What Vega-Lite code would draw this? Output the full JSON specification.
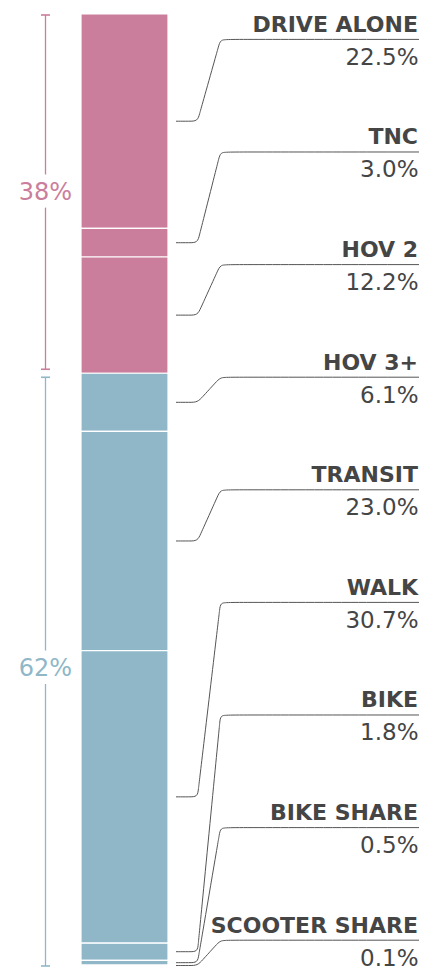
{
  "$schema": "https://vega.github.io/schema/vega-lite/v6.json",
  "width": 433,
  "height": 973,
  "padding": 0,
  "autosize": {"type": "none"},
  "background": "white",
  "config": {"view": {"stroke": null}},
  "datasets": {
    "modes": [
      {"mode": "Drive alone", "label": "DRIVE ALONE", "pct": 22.5, "start": 0, "end": 22.5, "group": "Vehicle", "labelPos": 2.665},
      {"mode": "TNC", "label": "TNC", "pct": 3.0, "start": 22.5, "end": 25.5, "group": "Vehicle", "labelPos": 14.481},
      {"mode": "HOV 2", "label": "HOV 2", "pct": 12.2, "start": 25.5, "end": 37.7, "group": "Vehicle", "labelPos": 26.297},
      {"mode": "HOV 3+", "label": "HOV 3+", "pct": 6.1, "start": 37.7, "end": 43.8, "group": "Other", "labelPos": 38.113},
      {"mode": "Transit", "label": "TRANSIT", "pct": 23.0, "start": 43.8, "end": 66.8, "group": "Other", "labelPos": 49.929},
      {"mode": "Walk", "label": "WALK", "pct": 30.7, "start": 66.8, "end": 97.5, "group": "Other", "labelPos": 61.745},
      {"mode": "Bike", "label": "BIKE", "pct": 1.8, "start": 97.5, "end": 99.3, "group": "Other", "labelPos": 73.561},
      {"mode": "Bike share", "label": "BIKE SHARE", "pct": 0.5, "start": 99.3, "end": 99.8, "group": "Other", "labelPos": 85.377},
      {"mode": "Scooter share", "label": "SCOOTER SHARE", "pct": 0.1, "start": 99.8, "end": 99.9, "group": "Other", "labelPos": 97.193}
    ],
    "groups": [
      {"group": "Vehicle", "share": 37.7, "start": 0, "end": 37.7, "mid": 18.85},
      {"group": "Other", "share": 62.2, "start": 37.7, "end": 99.9, "mid": 68.8}
    ],
    "connectors": [
      {"mode": "Drive alone", "x": 176, "y": 11.25}, {"mode": "Drive alone", "x": 189.5, "y": 11.25}, {"mode": "Drive alone", "x": 197.5, "y": 11.25}, {"mode": "Drive alone", "x": 199.67, "y": 10.442}, {"mode": "Drive alone", "x": 201.83, "y": 9.634}, {"mode": "Drive alone", "x": 216.17, "y": 4.281}, {"mode": "Drive alone", "x": 218.34, "y": 3.473}, {"mode": "Drive alone", "x": 220.5, "y": 2.665}, {"mode": "Drive alone", "x": 228.5, "y": 2.665}, {"mode": "Drive alone", "x": 419, "y": 2.665},
      {"mode": "TNC", "x": 176, "y": 24}, {"mode": "TNC", "x": 189.5, "y": 24}, {"mode": "TNC", "x": 197.5, "y": 24}, {"mode": "TNC", "x": 199.47, "y": 23.186}, {"mode": "TNC", "x": 201.43, "y": 22.372}, {"mode": "TNC", "x": 216.57, "y": 16.109}, {"mode": "TNC", "x": 218.53, "y": 15.295}, {"mode": "TNC", "x": 220.5, "y": 14.481}, {"mode": "TNC", "x": 228.5, "y": 14.481}, {"mode": "TNC", "x": 419, "y": 14.481},
      {"mode": "HOV 2", "x": 176, "y": 31.6}, {"mode": "HOV 2", "x": 189.5, "y": 31.6}, {"mode": "HOV 2", "x": 197.5, "y": 31.6}, {"mode": "HOV 2", "x": 200.81, "y": 30.836}, {"mode": "HOV 2", "x": 204.13, "y": 30.072}, {"mode": "HOV 2", "x": 213.87, "y": 27.825}, {"mode": "HOV 2", "x": 217.19, "y": 27.061}, {"mode": "HOV 2", "x": 220.5, "y": 26.297}, {"mode": "HOV 2", "x": 228.5, "y": 26.297}, {"mode": "HOV 2", "x": 419, "y": 26.297},
      {"mode": "HOV 3+", "x": 176, "y": 40.75}, {"mode": "HOV 3+", "x": 189.5, "y": 40.75}, {"mode": "HOV 3+", "x": 197.5, "y": 40.75}, {"mode": "HOV 3+", "x": 202.9, "y": 40.131}, {"mode": "HOV 3+", "x": 208.3, "y": 39.512}, {"mode": "HOV 3+", "x": 209.7, "y": 39.352}, {"mode": "HOV 3+", "x": 215.1, "y": 38.732}, {"mode": "HOV 3+", "x": 220.5, "y": 38.113}, {"mode": "HOV 3+", "x": 228.5, "y": 38.113}, {"mode": "HOV 3+", "x": 419, "y": 38.113},
      {"mode": "Transit", "x": 176, "y": 55.3}, {"mode": "Transit", "x": 189.5, "y": 55.3}, {"mode": "Transit", "x": 197.5, "y": 55.3}, {"mode": "Transit", "x": 200.78, "y": 54.534}, {"mode": "Transit", "x": 204.06, "y": 53.769}, {"mode": "Transit", "x": 213.94, "y": 51.46}, {"mode": "Transit", "x": 217.22, "y": 50.695}, {"mode": "Transit", "x": 220.5, "y": 49.929}, {"mode": "Transit", "x": 228.5, "y": 49.929}, {"mode": "Transit", "x": 419, "y": 49.929},
      {"mode": "Walk", "x": 176, "y": 82.15}, {"mode": "Walk", "x": 189.5, "y": 82.15}, {"mode": "Walk", "x": 197.5, "y": 82.15}, {"mode": "Walk", "x": 198.44, "y": 81.316}, {"mode": "Walk", "x": 199.38, "y": 80.483}, {"mode": "Walk", "x": 218.62, "y": 63.412}, {"mode": "Walk", "x": 219.56, "y": 62.579}, {"mode": "Walk", "x": 220.5, "y": 61.745}, {"mode": "Walk", "x": 228.5, "y": 61.745}, {"mode": "Walk", "x": 419, "y": 61.745},
      {"mode": "Bike", "x": 176, "y": 98.4}, {"mode": "Bike", "x": 189.5, "y": 98.4}, {"mode": "Bike", "x": 197.5, "y": 98.4}, {"mode": "Bike", "x": 198.27, "y": 97.565}, {"mode": "Bike", "x": 199.05, "y": 96.729}, {"mode": "Bike", "x": 218.95, "y": 75.232}, {"mode": "Bike", "x": 219.73, "y": 74.397}, {"mode": "Bike", "x": 220.5, "y": 73.561}, {"mode": "Bike", "x": 228.5, "y": 73.561}, {"mode": "Bike", "x": 419, "y": 73.561},
      {"mode": "Bike share", "x": 176, "y": 99.55}, {"mode": "Bike share", "x": 189.5, "y": 99.55}, {"mode": "Bike share", "x": 197.5, "y": 99.55}, {"mode": "Bike share", "x": 198.84, "y": 98.722}, {"mode": "Bike share", "x": 200.19, "y": 97.895}, {"mode": "Bike share", "x": 217.81, "y": 87.032}, {"mode": "Bike share", "x": 219.16, "y": 86.205}, {"mode": "Bike share", "x": 220.5, "y": 85.377}, {"mode": "Bike share", "x": 228.5, "y": 85.377}, {"mode": "Bike share", "x": 419, "y": 85.377},
      {"mode": "Scooter share", "x": 176, "y": 99.85}, {"mode": "Scooter share", "x": 189.5, "y": 99.85}, {"mode": "Scooter share", "x": 197.5, "y": 99.85}, {"mode": "Scooter share", "x": 202.88, "y": 99.229}, {"mode": "Scooter share", "x": 208.26, "y": 98.607}, {"mode": "Scooter share", "x": 209.74, "y": 98.436}, {"mode": "Scooter share", "x": 215.12, "y": 97.814}, {"mode": "Scooter share", "x": 220.5, "y": 97.193}, {"mode": "Scooter share", "x": 228.5, "y": 97.193}, {"mode": "Scooter share", "x": 419, "y": 97.193}
    ]
  },
  "layer": [
    {
      "data": {"name": "modes"},
      "mark": {"type": "rect", "stroke": "white", "strokeWidth": 1.2},
      "encoding": {
        "x": {"datum": 81, "type": "quantitative", "scale": {"domain": [0, 433], "nice": false, "zero": false}, "axis": null},
        "x2": {"datum": 168},
        "y": {"field": "start", "type": "quantitative", "scale": {"domain": [-1.4691, 100.635], "reverse": true, "nice": false, "zero": false}, "axis": null},
        "y2": {"field": "end"},
        "color": {"field": "group", "type": "nominal", "scale": {"domain": ["Vehicle", "Other"], "range": ["#CB7E9B", "#8FB7C8"]}, "legend": null}
      }
    },
    {
      "data": {"name": "connectors"},
      "mark": {"type": "line", "interpolate": "basis", "color": "#555555", "strokeWidth": 1},
      "encoding": {
        "x": {"field": "x", "type": "quantitative", "scale": {"domain": [0, 433], "nice": false, "zero": false}, "axis": null},
        "y": {"field": "y", "type": "quantitative", "scale": {"domain": [-1.4691, 100.635], "reverse": true, "nice": false, "zero": false}, "axis": null},
        "detail": {"field": "mode", "type": "nominal"}
      }
    },
    {
      "data": {"name": "modes"},
      "mark": {"type": "text", "align": "right", "baseline": "alphabetic", "dy": -7.5, "font": "DejaVu Sans", "fontWeight": "bold", "fontSize": 22, "color": "#454545"},
      "encoding": {
        "x": {"datum": 418, "type": "quantitative", "scale": {"domain": [0, 433], "nice": false, "zero": false}, "axis": null},
        "y": {"field": "labelPos", "type": "quantitative", "scale": {"domain": [-1.4691, 100.635], "reverse": true, "nice": false, "zero": false}, "axis": null},
        "text": {"field": "label"}
      }
    },
    {
      "data": {"name": "modes"},
      "transform": [{"calculate": "format(datum.pct, '.1f') + '%'", "as": "pctText"}],
      "mark": {"type": "text", "align": "right", "baseline": "alphabetic", "dy": 25.5, "font": "DejaVu Sans", "fontSize": 23, "color": "#454545"},
      "encoding": {
        "x": {"datum": 418.5, "type": "quantitative", "scale": {"domain": [0, 433], "nice": false, "zero": false}, "axis": null},
        "y": {"field": "labelPos", "type": "quantitative", "scale": {"domain": [-1.4691, 100.635], "reverse": true, "nice": false, "zero": false}, "axis": null},
        "text": {"field": "pctText"}
      }
    },
    {
      "data": {"name": "groups"},
      "transform": [{"filter": "datum.group === 'Vehicle'"}],
      "encoding": {
        "y": {"field": "start", "type": "quantitative", "scale": {"domain": [-1.4691, 100.635], "reverse": true, "nice": false, "zero": false}, "axis": null},
        "color": {"field": "group", "type": "nominal", "scale": {"domain": ["Vehicle", "Other"], "range": ["#CB7E9B", "#8FB7C8"]}, "legend": null}
      },
      "layer": [
        {
          "mark": {"type": "rule", "yOffset": 1, "y2Offset": -4, "strokeWidth": 1.3},
          "encoding": {
            "x": {"datum": 45.5, "type": "quantitative", "scale": {"domain": [0, 433], "nice": false, "zero": false}, "axis": null},
            "y2": {"field": "end"}
          }
        },
        {
          "mark": {"type": "rule", "yOffset": 1, "strokeWidth": 1.6},
          "encoding": {
            "x": {"datum": 41, "type": "quantitative", "scale": {"domain": [0, 433], "nice": false, "zero": false}, "axis": null},
            "x2": {"datum": 50}
          }
        },
        {
          "mark": {"type": "rule", "yOffset": -4, "strokeWidth": 1.6},
          "encoding": {
            "x": {"datum": 41, "type": "quantitative", "scale": {"domain": [0, 433], "nice": false, "zero": false}, "axis": null},
            "x2": {"datum": 50},
            "y": {"field": "end", "type": "quantitative", "scale": {"domain": [-1.4691, 100.635], "reverse": true, "nice": false, "zero": false}, "axis": null}
          }
        }
      ]
    },
    {
      "data": {"name": "groups"},
      "transform": [{"filter": "datum.group === 'Other'"}],
      "encoding": {
        "y": {"field": "start", "type": "quantitative", "scale": {"domain": [-1.4691, 100.635], "reverse": true, "nice": false, "zero": false}, "axis": null},
        "color": {"field": "group", "type": "nominal", "scale": {"domain": ["Vehicle", "Other"], "range": ["#CB7E9B", "#8FB7C8"]}, "legend": null}
      },
      "layer": [
        {
          "mark": {"type": "rule", "yOffset": 4, "strokeWidth": 1.3},
          "encoding": {
            "x": {"datum": 45.5, "type": "quantitative", "scale": {"domain": [0, 433], "nice": false, "zero": false}, "axis": null},
            "y2": {"field": "end"}
          }
        },
        {
          "mark": {"type": "rule", "yOffset": 4, "strokeWidth": 1.6},
          "encoding": {
            "x": {"datum": 41, "type": "quantitative", "scale": {"domain": [0, 433], "nice": false, "zero": false}, "axis": null},
            "x2": {"datum": 50}
          }
        },
        {
          "mark": {"type": "rule", "strokeWidth": 1.6},
          "encoding": {
            "x": {"datum": 41, "type": "quantitative", "scale": {"domain": [0, 433], "nice": false, "zero": false}, "axis": null},
            "x2": {"datum": 50},
            "y": {"field": "end", "type": "quantitative", "scale": {"domain": [-1.4691, 100.635], "reverse": true, "nice": false, "zero": false}, "axis": null}
          }
        }
      ]
    },
    {
      "data": {"name": "groups"},
      "transform": [{"calculate": "format(datum.share, '.0f') + '%'", "as": "shareText"}],
      "encoding": {
        "x": {"datum": 45.5, "type": "quantitative", "scale": {"domain": [0, 433], "nice": false, "zero": false}, "axis": null},
        "y": {"field": "mid", "type": "quantitative", "scale": {"domain": [-1.4691, 100.635], "reverse": true, "nice": false, "zero": false}, "axis": null},
        "text": {"field": "shareText"}
      },
      "layer": [
        {
          "mark": {"type": "text", "align": "center", "baseline": "middle", "dy": -1, "font": "DejaVu Sans", "fontSize": 24, "fill": "white", "stroke": "white", "strokeWidth": 16, "strokeJoin": "round"}
        },
        {
          "mark": {"type": "text", "align": "center", "baseline": "middle", "dy": -1, "font": "DejaVu Sans", "fontSize": 24},
          "encoding": {
            "color": {"field": "group", "type": "nominal", "scale": {"domain": ["Vehicle", "Other"], "range": ["#CB7E9B", "#8FB7C8"]}, "legend": null}
          }
        }
      ]
    }
  ]
}
